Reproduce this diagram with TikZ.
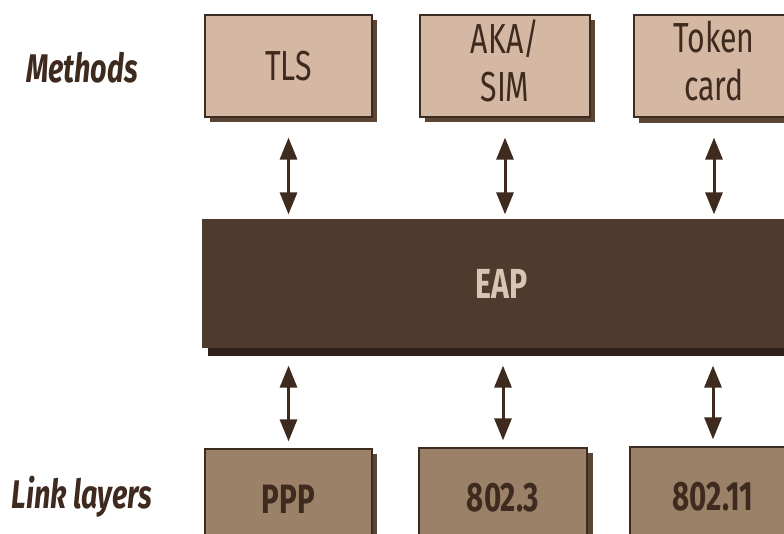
\documentclass[tikz,border=0pt]{standalone}
\usepackage{fontspec}
\setmainfont{Fira Sans}[FakeStretch=0.72]
\usetikzlibrary{arrows.meta}
\definecolor{topfill}{HTML}{D4B8A3}
\definecolor{botfill}{HTML}{9C8169}
\definecolor{eapfill}{HTML}{4F3B2D}
\definecolor{edgecol}{HTML}{3B2B20}
\definecolor{shadecol}{HTML}{5A4535}
\definecolor{eapshade}{HTML}{2E2018}
\definecolor{inkcol}{HTML}{3E2A1E}
\definecolor{eaptext}{HTML}{D9C6B2}
\tikzset{
  boxbase/.style={draw=edgecol, line width=1.2pt, inner sep=0pt, align=center,
    font=\fontsize{42}{48}\selectfont, text=inkcol},
  methodbox/.style={boxbase, fill=topfill, minimum height=102pt},
  boxtext/.style={inner sep=0pt, align=center, font=\fontsize{42}{48}\selectfont, text=inkcol},
  linkbox/.style={boxbase, fill=botfill, minimum height=100pt, font=\fontsize{41}{46}\selectfont\bfseries},
  eapbox/.style={boxbase, fill=eapfill, draw=eapfill, text=eaptext, font=\fontsize{42}{46}\selectfont\bfseries},
  sidelabel/.style={font=\fontsize{40}{44}\selectfont\bfseries\itshape, text=inkcol},
  biarrow/.style={{Triangle[length=22pt,width=17pt]}-{Triangle[length=22pt,width=17pt]}, line width=3pt, draw=inkcol}
}
\begin{document}
\begin{tikzpicture}[x=1pt,y=-1pt]
\useasboundingbox (0,0) rectangle (784,534);
\clip (0,0) rectangle (784,534);
% shadows
\fill[shadecol] (210,20) rectangle (377,122);
\fill[shadecol] (425,20) rectangle (595,122);
\fill[shadecol] (639,20) rectangle (800,123);
\fill[eapshade] (208,225) rectangle (800,356);
\fill[shadecol] (210,454) rectangle (377,560);
\fill[shadecol] (424,453) rectangle (593,560);
\fill[shadecol] (635,452) rectangle (800,560);
% method boxes
\node[methodbox, minimum width=167pt] (tls) at (288.5,66) {TLS};
\node[methodbox, minimum width=170pt] (aka) at (505,66) {};
\node[boxtext] (akatext) at ([yshift=5pt]aka.center) {AKA/\\SIM};
\node[methodbox, minimum width=160pt] (tok) at (714,66) {};
\node[boxtext] (toktext) at ([yshift=5pt]tok.center) {Token\\card};
% EAP
\node[eapbox, minimum width=597pt, minimum height=127pt] (eap) at (501.5,283.5) {EAP};
% link boxes
\node[linkbox, minimum width=167pt] (ppp) at (288.5,499) {PPP};
\node[linkbox, minimum width=168pt] (e3) at (503,498) {802.3};
\node[linkbox, minimum width=166pt] (e11) at (713,497) {802.11};
% labels
\node[sidelabel] (meth) at (82,68) {Methods};
\node[sidelabel] (link) at (82,497) {Link layers};
% arrows
\draw[biarrow, shorten <=20pt, shorten >=5pt] (tls.south) -- (tls.south |- eap.north);
\draw[biarrow, shorten <=20pt, shorten >=5pt] (aka.south) -- (aka.south |- eap.north);
\draw[biarrow, shorten <=20pt, shorten >=5pt] (tok.south) -- (tok.south |- eap.north);
\draw[biarrow, shorten <=18pt, shorten >=7pt] (eap.south -| ppp.north) -- (ppp.north);
\draw[biarrow, shorten <=18pt, shorten >=7pt] (eap.south -| e3.north) -- (e3.north);
\draw[biarrow, shorten <=18pt, shorten >=7pt] (eap.south -| e11.north) -- (e11.north);
\end{tikzpicture}
\end{document}
